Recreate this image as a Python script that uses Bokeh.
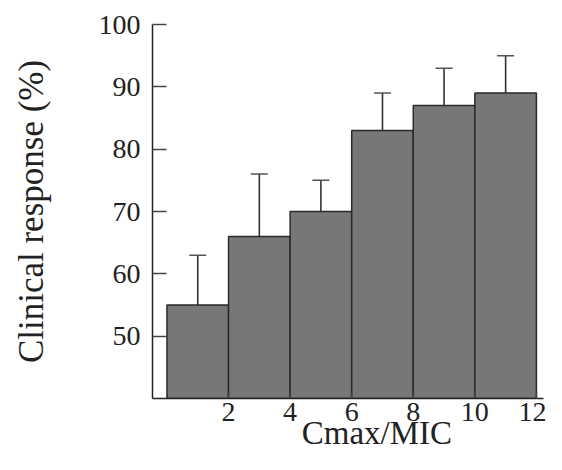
from bokeh.plotting import figure
from bokeh.models import ColumnDataSource, Range1d, FixedTicker, Whisker, TeeHead
from bokeh.embed import file_html
from bokeh.resources import INLINE

# Data: Cmax/MIC bins (left/right edges), clinical response (%), upper error
bin_left = [0, 2, 4, 6, 8, 10]
bin_right = [2, 4, 6, 8, 10, 12]
response = [55, 66, 70, 83, 87, 89]
upper_err = [63, 76, 75, 89, 93, 95]
x_ticks = [2, 4, 6, 8, 10, 12]
y_ticks = [50, 60, 70, 80, 90, 100]

centers = [(a + b) / 2 for a, b in zip(bin_left, bin_right)]
base = [40] * len(response)
src = ColumnDataSource(dict(left=bin_left, right=bin_right, top=response,
                            bottom=base, center=centers, upper=upper_err))

FONT = "Liberation Serif"

p = figure(width=546, height=454, output_backend="svg", toolbar_location=None,
           x_range=Range1d(-0.47, 12.23), y_range=Range1d(40, 100),
           min_border_left=152, min_border_right=3, min_border_top=24,
           min_border_bottom=56)
p.outline_line_color = None
p.grid.visible = False
p.background_fill_color = "white"
p.border_fill_color = "white"

p.quad(left="left", right="right", bottom="bottom", top="top", source=src,
       fill_color="#777777", line_color="#2a2a2a", line_width=1.5)

wh = Whisker(base="center", lower="top", upper="upper", source=src,
             line_color="#333333", line_width=1.6,
             upper_head=TeeHead(size=17, line_color="#555555", line_width=1.5),
             lower_head=None)
p.add_layout(wh)

for ax in (p.xaxis[0], p.yaxis[0]):
    ax.axis_line_color = "#222222"
    ax.axis_line_width = 1.5
    ax.major_tick_line_color = "#444444"
    ax.major_tick_line_width = 1.5
    ax.minor_tick_line_color = None
    ax.major_label_text_font = FONT
    ax.major_label_text_font_size = "28px"
    ax.major_label_text_color = "#222222"
    ax.major_tick_out = 0
    ax.axis_label_text_font = FONT
    ax.axis_label_text_font_style = "normal"
    ax.axis_label_text_color = "#222222"

p.yaxis[0].ticker = FixedTicker(ticks=y_ticks)
p.yaxis[0].major_tick_in = 14
p.yaxis[0].major_label_standoff = 12
p.yaxis[0].axis_label = "Clinical response (%)"
p.yaxis[0].axis_label_text_font_size = "35px"
p.yaxis[0].axis_label_standoff = 45

p.xaxis[0].ticker = FixedTicker(ticks=x_ticks)
p.xaxis[0].major_tick_in = 6
p.xaxis[0].major_label_standoff = 4
p.xaxis[0].major_label_text_line_height = 1.0
p.xaxis[0].axis_label = "\u00a0" * 7 + "Cmax/MIC"
p.xaxis[0].axis_label_text_font_size = "33px"
p.xaxis[0].axis_label_text_line_height = 1.0
p.xaxis[0].axis_label_standoff = -9

open("out.html", "w").write(file_html(p, INLINE))
